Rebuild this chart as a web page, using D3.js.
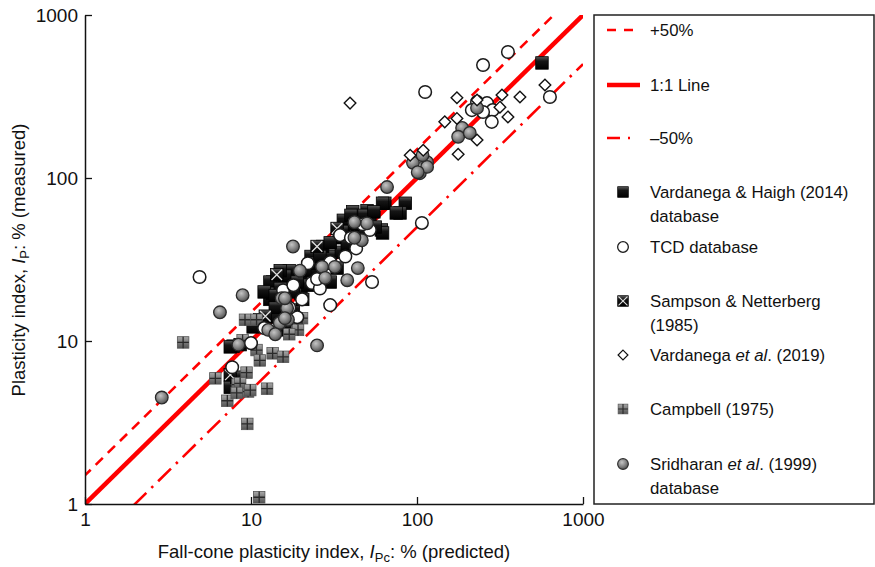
<!DOCTYPE html>
<html><head><meta charset="utf-8">
<script src="https://cdn.jsdelivr.net/npm/d3@7"></script>
<style>body{margin:0;background:#fff}svg{display:block;font-family:"Liberation Sans",Arial,sans-serif}</style>
</head><body><svg id="c" width="875" height="567"></svg>
<script>
// ---------- data (x = fall-cone IPc %, y = measured IP %) ----------
const tickValues = [1, 10, 100, 1000];
const lineFactors = [1.5, 1, 0.5];        // +50%, 1:1, -50%
const lineLabels = ["+50%", "1:1 Line", "\u201350%"];

const vardanegaHaigh = [[566,508],[64,70],[85,70],[79,61],[41,62],[50,63],[52,55],[61,48],[36,55],[48,59],
 [62,70],[75,61],[62,46],[40,59],[34,43],[30,33],[27,38],[23,33],[25,27],[30,23],[17,27],[13.5,23],[13,18],
 [14,14],[18,15.5],[20,19.5],[16,25],[20,25],[20.5,18],[15.5,11.7],[8.6,9.5],[7.8,9.3],[7.5,5.2],[8.2,6],
 [13,23],[15,27],[13.5,19.6],[11.3,13.5],[7.5,9.2],[10.3,12.2],[45,50],[35,35],[28,30],[22,22],[18,20],
 [16,17],[14,16],[17,12.5],[12,20],[33,28],[38,39],[44,46],[56,50],[30,40],[24,30],[19,23],[15,21],[26,33],
 [36,47],[42,52],[55,62],[14,19],[21,27]];
const tcd = [[4.9,24.7],[353,593],[250,493],[112,337],[632,314],[230,293],[264,288],[286,261],[282,221],
 [250,254],[214,261],[107,53],[53.6,23],[30,16.6],[34.4,44.6],[40,43],[37,33],[30,30.5],[23.3,22.7],[26,21],
 [20.3,18],[15.6,20.5],[19,14],[43,37],[52,48],[7.7,6.9],[10,9.7],[17,16],[25,24],[47,52],[22,30],[18,22],[12,12]];
const sampson = [[14.3,25.5],[25,38],[33,49],[12.2,14.2],[7.5,6.2]];
const vardanega2019 = [[174,311],[147,221],[230,301],[325,323],[417,314],[316,272],[353,237],[230,171],
 [177,140],[590,372],[109,148],[91,138],[39.5,288],[174,232]];
const campbell = [[3.9,9.8],[11.2,1.1],[9.5,3.1],[12.5,5.1],[6.1,5.9],[7.2,4.3],[8.3,5.4],[9.6,4.9],[9.2,13.5],
 [10.8,13.5],[9.4,6.4],[8.6,5.5],[8.2,4.8],[10.8,8.8],[13.5,8.4],[15.6,8],[11.3,7.6],[8.9,10.1],[19,12.9],
 [19.2,11.7],[20.3,13.8],[17,11],[9.9,5]];
const sridharan = [[2.9,4.5],[6.5,15],[8.9,19.1],[25,9.4],[17.9,38],[44,28],[38,23.6],[66,88],[50,52.7],
 [187,203],[177,179],[208,189],[230,269],[94.6,124],[104,107],[115,125],[115,117],[108,138],[15.3,18.3],
 [16.5,15.9],[14.9,12.9],[12.7,11.7],[16.7,13.5],[19.7,27],[26.8,28.5],[28,24.4],[32,28.5],[42,53.6],
 [46.5,41.5],[16,18.3],[16,13.8],[8.4,9.5],[42,43],[101,108.5],[14,11]];

// ---------- chart ----------
const svg = d3.select("#c");
const x = d3.scaleLog().domain([1,1000]).range([85,583]);
const y = d3.scaleLog().domain([1,1000]).range([504,15]);

const defs = svg.append("defs");
function radial(id, stops){
  const g = defs.append("radialGradient").attr("id",id).attr("cx","40%").attr("cy","35%").attr("r","70%");
  stops.forEach(s=>g.append("stop").attr("offset",s[0]).attr("stop-color",s[1]));
}
function linear(id, stops){
  const g = defs.append("linearGradient").attr("id",id).attr("x1",0).attr("y1",0).attr("x2",0).attr("y2",1);
  stops.forEach(s=>g.append("stop").attr("offset",s[0]).attr("stop-color",s[1]));
}
radial("gGray", [[0,"#c4c4c4"],[0.5,"#8a8a8a"],[1,"#4a4a4a"]]);
radial("gWhite", [[0,"#ffffff"],[0.7,"#ffffff"],[1,"#d0d0d0"]]);
linear("gBlack", [[0,"#5a5a5a"],[0.35,"#151515"],[1,"#000"]]);
linear("gCamp", [[0,"#a8a8a8"],[0.5,"#7a7a7a"],[1,"#555"]]);

defs.append("clipPath").attr("id","plotclip").append("rect")
  .attr("x",85).attr("y",15).attr("width",498).attr("height",489);

// reference lines
const lineStyles = [
  {w:2.6, dash:"10,7"},
  {w:4.5, dash:null},
  {w:2.6, dash:"18,7,2.5,7"}
];
const lg = svg.append("g").attr("clip-path","url(#plotclip)");
lineFactors.forEach((f,i)=>{
  const xs = [0.5, 1000];
  lg.append("path")
    .attr("d", d3.line().x(d=>x(d)).y(d=>y(d*f))(xs))
    .attr("fill","none").attr("stroke","#ff0000").attr("stroke-width",lineStyles[i].w)
    .attr("stroke-dasharray",lineStyles[i].dash);
});

// markers
const S = 12.5;
function drawVH(g){ g.append("rect").attr("x",-S/2).attr("y",-S/2).attr("width",S).attr("height",S)
  .attr("fill","url(#gBlack)").attr("stroke","#000").attr("stroke-width",0.8); }
function drawSampson(g){ drawVH(g);
  const h=S/2-1; g.append("path").attr("d",`M${-h},${-h}L${h},${h}M${-h},${h}L${h},${-h}`)
  .attr("stroke","#e0e0e0").attr("stroke-width",1.3); }
function drawCamp(g){ const s=11.5; g.append("rect").attr("x",-s/2).attr("y",-s/2).attr("width",s).attr("height",s)
  .attr("fill","url(#gCamp)").attr("stroke","#555").attr("stroke-width",0.8);
  g.append("path").attr("d",`M0,${-s/2}V${s/2}M${-s/2},0H${s/2}`).attr("stroke","#2a2a2a").attr("stroke-width",1.3); }
function drawTCD(g){ g.append("circle").attr("r",6.3).attr("fill","url(#gWhite)").attr("stroke","#1a1a1a").attr("stroke-width",1.5); }
function drawSrid(g){ g.append("circle").attr("r",6.3).attr("fill","url(#gGray)").attr("stroke","#2a2a2a").attr("stroke-width",1.3); }
function drawDiamond(g){ const r=5.8; g.append("path").attr("d",`M0,${-r}L${r},0L0,${r}L${-r},0Z`)
  .attr("fill","#fff").attr("stroke","#111").attr("stroke-width",1.4); }

const series = [
  {data:vardanegaHaigh, draw:drawVH},
  {data:sampson, draw:drawSampson},
  {data:campbell, draw:drawCamp},
  {data:tcd, draw:drawTCD},
  {data:sridharan, draw:drawSrid},
  {data:vardanega2019, draw:drawDiamond}
];
const pg = svg.append("g");
series.forEach(s=>{
  pg.selectAll(null).data(s.data).enter().append("g")
    .attr("transform",d=>`translate(${x(d[0])},${y(d[1])})`)
    .each(function(){ s.draw(d3.select(this)); });
});

// axes
const fmt = d3.format("d");
const xAxis = svg.append("g").attr("transform","translate(0,504)")
  .call(d3.axisBottom(x).tickValues(tickValues).tickFormat(fmt).tickSize(-7).tickSizeOuter(0).tickPadding(9));
const yAxis = svg.append("g").attr("transform","translate(85,0)")
  .call(d3.axisLeft(y).tickValues(tickValues).tickFormat(fmt).tickSize(-7).tickSizeOuter(0).tickPadding(7));
[xAxis,yAxis].forEach(a=>{
  a.selectAll("text").attr("font-size",19).attr("fill","#111").attr("font-family","Liberation Sans, Arial, sans-serif");
  a.select(".domain").attr("stroke","#111").attr("stroke-width",1.5);
  a.selectAll(".tick line").attr("stroke","#111").attr("stroke-width",1.3);
});

// axis titles
const xt = svg.append("text").attr("x",334).attr("y",558).attr("text-anchor","middle").attr("font-size",18.5).attr("fill","#111");
xt.append("tspan").text("Fall-cone plasticity index, ");
xt.append("tspan").attr("font-style","italic").text("I");
xt.append("tspan").attr("font-size",13).attr("dy",4).text("Pc");
xt.append("tspan").attr("dy",-4).text(": % (predicted)");

const yt = svg.append("text").attr("transform","translate(25,260) rotate(-90)").attr("text-anchor","middle").attr("font-size",18.5).attr("fill","#111");
yt.append("tspan").text("Plasticity index, ");
yt.append("tspan").attr("font-style","italic").text("I");
yt.append("tspan").attr("font-size",13).attr("dy",4).text("P");
yt.append("tspan").attr("dy",-4).text(": % (measured)");

// legend
const leg = svg.append("g");
leg.append("rect").attr("x",594).attr("y",15).attr("width",280).attr("height",489)
  .attr("fill","none").attr("stroke","#222").attr("stroke-width",1.5);
const legLineY = [30, 85, 138];
const legLineX2 = [633, 640, 633];
lineFactors.forEach((f,i)=>{
  leg.append("line").attr("x1",607).attr("x2",legLineX2[i]).attr("y1",legLineY[i]).attr("y2",legLineY[i])
    .attr("stroke","#ff0000").attr("stroke-width",lineStyles[i].w)
    .attr("stroke-dasharray", i===0?"9,8": (i===2?"13,8,2,6":null));
  leg.append("text").attr("x",650).attr("y",legLineY[i]+6).attr("font-size",16.8).attr("fill","#111").text(lineLabels[i]);
});
const legItems = [
  {y:192, draw:drawVH, lines:[["Vardanega & Haigh (2014)"],["database"]]},
  {y:247, draw:drawTCD, lines:[["TCD database"]]},
  {y:301, draw:drawSampson, lines:[["Sampson & Netterberg"],["(1985)"]]},
  {y:355, draw:drawDiamond, lines:[["Vardanega ",["et al","i"],". (2019)"]]},
  {y:409, draw:drawCamp, lines:[["Campbell (1975)"]]},
  {y:464, draw:drawSrid, lines:[["Sridharan ",["et al","i"],". (1999)"],["database"]]}
];
legItems.forEach(it=>{
  const g = leg.append("g").attr("transform",`translate(623,${it.y}) scale(0.85)`);
  it.draw(g);
  it.lines.forEach((ln,j)=>{
    const t = leg.append("text").attr("x",650).attr("y",it.y+6+j*24).attr("font-size",16.8).attr("fill","#111");
    ln.forEach(p=>{ if(Array.isArray(p)) t.append("tspan").attr("font-style","italic").text(p[0]); else t.append("tspan").text(p); });
  });
});
</script></body></html>
